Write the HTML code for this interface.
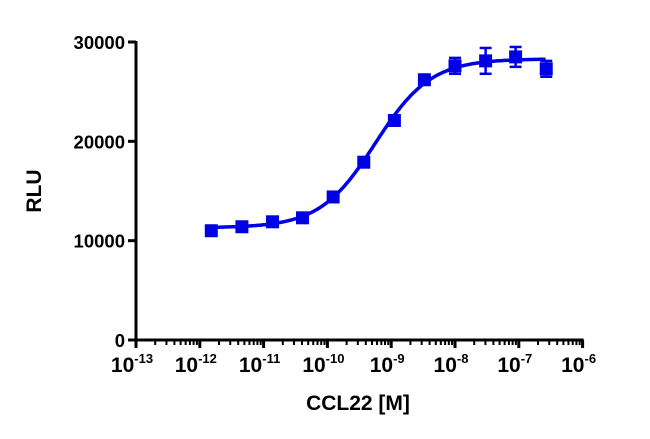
<!DOCTYPE html>
<html><head><meta charset="utf-8"><style>
body{margin:0;background:#fff}
svg text{font-family:"Liberation Sans",Arial,sans-serif;font-weight:bold;fill:#000}
</style></head><body>
<svg width="650" height="434">
<g id="axes"></g><g id="marks"></g>
<text x="41" y="191" font-size="21" text-anchor="middle" transform="rotate(-90 41 191)">RLU</text>
<text x="358" y="410" font-size="21" text-anchor="middle">CCL22 [M]</text>
</svg>
<script>
const logConc=[-11.82,-11.34,-10.86,-10.39,-9.91,-9.43,-8.95,-8.48,-8.0,-7.52,-7.05,-6.57];
const rlu=[11000,11400,11900,12300,14400,17900,22100,26200,27600,28100,28500,27300];
const errs=[300,300,300,300,300,300,500,500,800,1300,1000,800];
const yTicks=[0,10000,20000,30000];
const xExps=[-13,-12,-11,-10,-9,-8,-7,-6];
const fitBottom=11300,fitTop=28300,fitLogEC50=-9.25,fitHill=1.0;
const NS="http://www.w3.org/2000/svg";
const X=v=>136+(v+13)*63.8, Y=v=>340-v*298/30000;
const ax=document.getElementById('axes'), mk=document.getElementById('marks');
function el(t,a,p){const e=document.createElementNS(NS,t);for(const k in a)e.setAttribute(k,a[k]);p.appendChild(e);return e;}
let e=el('line',{x1:135,y1:Y(0),x2:X(-6)+1,y2:Y(0),stroke:'#000','stroke-width':3},ax);


e=el('line',{x1:136,y1:Y(0)+1.5,x2:136,y2:Y(30000)-1,stroke:'#000','stroke-width':3},ax);


yTicks.forEach(v=>{
 el('line',{x1:128,y1:Y(v),x2:136,y2:Y(v),stroke:'#000','stroke-width':3},ax);
 const t=el('text',{x:125,y:Y(v)+7,'font-size':18.5,'text-anchor':'end'},ax);t.textContent=v;
 
 
});
xExps.forEach((p,i)=>{
 el('line',{x1:X(p),y1:Y(0),x2:X(p),y2:Y(0)+8,stroke:'#000','stroke-width':3},ax);
 if(i<xExps.length-1)for(let m=2;m<10;m++){const xx=X(p+Math.log10(m));el('line',{x1:xx,y1:Y(0),x2:xx,y2:Y(0)+5,stroke:'#000','stroke-width':2},ax);}
 const t=el('text',{x:X(p)-4,y:Y(0)+32,'font-size':21,'text-anchor':'middle'},ax);
 
 
 t.textContent='10';const s=el('tspan',{'font-size':13,dy:-9},t);s.textContent=p;
});
let d='';
for(let lx=logConc[0];lx<=logConc[logConc.length-1]+0.001;lx+=0.02){
 const v=fitBottom+(fitTop-fitBottom)/(1+Math.pow(10,(fitLogEC50-lx)*fitHill));
 d+=(d?'L':'M')+X(lx).toFixed(1)+','+Y(v).toFixed(1);
}
e=el('path',{d:d,fill:'none',stroke:'#0000e6','stroke-width':3.5},mk);


logConc.forEach((c,i)=>{
 const x=X(c),y=Y(rlu[i]),y1=Y(rlu[i]+errs[i]),y2=Y(rlu[i]-errs[i]);
 const g=el('g',{},mk);
 
 
 el('line',{x1:x,y1:y1,x2:x,y2:y2,stroke:'#0000e6','stroke-width':2.5},g);
 el('line',{x1:x-6,y1:y1,x2:x+6,y2:y1,stroke:'#0000e6','stroke-width':2.5},g);
 el('line',{x1:x-6,y1:y2,x2:x+6,y2:y2,stroke:'#0000e6','stroke-width':2.5},g);
 el('rect',{x:x-6.5,y:y-6.5,width:13,height:13,fill:'#0000e6'},g);
});
</script>
</body></html>
